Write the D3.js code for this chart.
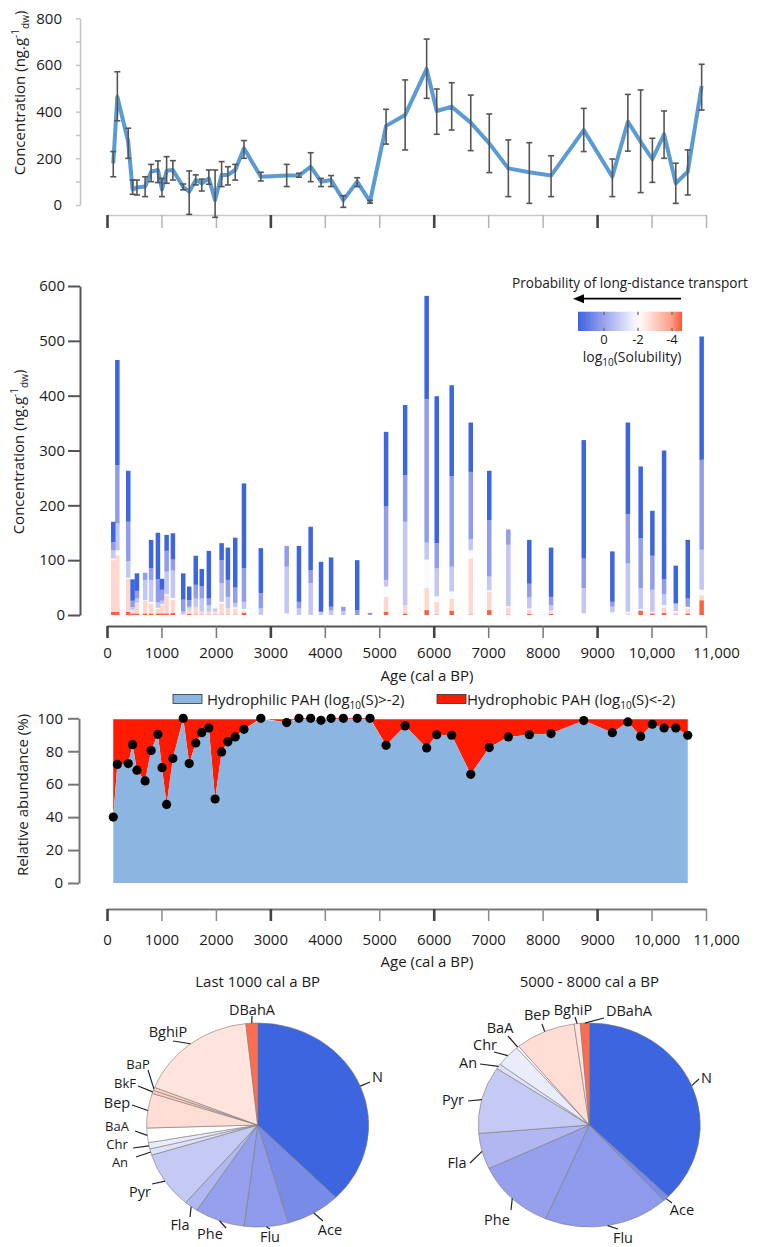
<!DOCTYPE html>
<html><head><meta charset="utf-8">
<script src="https://cdn.jsdelivr.net/npm/d3@7"></script>
<style>
body{margin:0;background:#fff;}
svg{display:block;font-family:"Open Sans",sans-serif;}
</style></head><body>
<svg id="chart" width="760" height="1247"></svg>
<script>
// ---------------- DATA ----------------
const ages = [115,190,390,470,550,700,810,935,1010,1095,1210,1400,1510,1630,1740,1870,1985,2105,2220,2355,2515,2825,3300,3525,3740,3930,4115,4340,4595,4830,5125,5475,5870,6055,6330,6680,7020,7370,7755,8155,8755,9280,9565,9800,10015,10230,10445,10665,10920];

// top panel: mean total PAH concentration with error range
const meanConc = [178,464,270,66,75,79,143,150,66,147,150,77,57,107,93,114,21,129,129,150,243,121,126,126,164,100,107,21,100,14,339,386,583,403,421,353,264,157,140,126,321,121,357,271,196,303,93,143,510];
const errLow  = [121,361,200,46,43,36,100,96,36,93,107,65,-40,86,60,89,-53,79,86,107,200,103,79,119,100,79,79,-10,79,8,261,236,457,303,321,233,139,36,7,36,229,36,231,53,97,200,7,43,407];
const errHigh = [229,571,329,107,107,121,174,189,114,207,190,90,146,129,111,150,150,186,164,174,276,140,174,136,224,114,126,40,117,20,410,536,711,497,524,471,390,279,267,211,414,197,474,493,286,403,179,236,603];

// middle panel: concentration by solubility class (bottom -> top)
const groupKeys = ["veryLow","low","mid2","hiLow","hiMid","hiTop"];
const groupLogS = [-4.5, -2.8, -1.9, -0.8, 0.15, 1.5];
const gRed   = [6,6,6,3,3,3,3,3,3,3,4,0,2,1,1,1,1,1,1,1,4,0,0,0,0,0,0,0,0,0,6,3,9,1,8,1,9,1,2,2,0,0,0,8,3,4,1,3,27];
const gPink  = [94,103,60,5,18,23,18,8,15,33,24,1,10,14,5,5,4,20,11,11,4,0,0,0,0,0,0,0,0,0,27,15,41,23,22,102,34,13,8,5,0,0,4,1,2,10,4,9,9];
const gWhite = [3,9,2,1,1,1,3,2,2,2,3,0,0,0,0,0,1,3,0,2,3,0,3,0,0,0,0,0,0,0,19,0,51,10,13,15,2,2,2,1,3,5,2,2,1,4,2,3,10];
const gLight = [15,49,30,5,8,37,40,10,6,41,50,5,3,15,24,12,6,34,21,8,13,12,85,12,58,6,8,7,0,0,12,152,31,51,45,20,25,112,20,10,46,10,88,38,40,20,14,0,73];
const gMid   = [15,106,72,12,14,13,21,42,20,38,20,22,12,25,22,12,0,42,31,28,61,28,38,12,24,0,7,8,9,4,134,85,262,46,165,123,103,28,25,15,54,9,90,91,62,27,0,15,164];
const gDark  = [37,192,93,39,32,0,52,85,20,29,48,48,25,53,32,87,0,31,59,91,155,82,0,102,79,91,90,0,91,0,136,128,188,268,166,90,90,0,80,90,216,92,167,131,82,235,69,107,225];

// bottom panel: relative abundance of hydrophilic PAH (%)
const hydrophilicPct = [40,72,72.5,84,68.5,62,80.4,90.3,70,47.7,75.6,100,72.5,85,91.3,94.1,51,79.6,85.7,88.7,93.3,100,97.4,100,100,98.8,100,100,100,100,83.6,95.4,82,90,89.7,66,82.2,88.7,90,90.7,98.6,91.3,97.8,89,96.4,94.1,94.1,89.7];

// pies
const pie1Names  = ["N","Ace","Flu","Phe","Fla","Pyr","An","Chr","BaA","Bep","BkF","BaP","BghiP","DBahA"];
const pie1Shares = [37.6,8.0,6.4,7.3,2.0,9.0,1.0,1.0,2.3,5.5,0.5,0.5,17.3,1.7];
const pie2Names  = ["N","Ace","Flu","Phe","Fla","Pyr","An","Chr","BaA","BeP","BghiP","DBahA"];
const pie2Shares = [37.5,0.9,18.2,11.6,5.7,10.7,0.8,3.5,0.4,8.8,0.9,1.3];
const compoundLogS = {N:1.5,Ace:0.55,Flu:0.2,Phe:0.05,Fla:-0.45,Pyr:-0.85,An:-1.35,Chr:-1.6,BaA:-2.0,Bep:-2.7,BeP:-2.7,BkF:-3.0,BaP:-2.9,BghiP:-2.55,DBahA:-4.4};

// ticks
const xTicks = [0,1000,2000,3000,4000,5000,6000,7000,8000,9000,10000,11000];
const xTickLabels = ["0","1000","2000","3000","4000","5000","6000","7000","8000","9000","10,000","11,000"];
const majorX = [0,3000,6000,9000];
const cbarDomain = [1.53,-4.59];
const cbarTicks = [0,-2,-4];

// ---------------- LAYOUT ----------------
const svg = d3.select("#chart");
const TXT = "#1a1a1a";
const color = d3.scaleLinear().domain([1.5,0,-2,-4,-4.6])
  .range(["#3D65DF","#9AA2EC","#FFFFFF","#FE9C84","#FF5533"]).clamp(true);
const x = d3.scaleLinear().domain([0,11000]).range([107,706]);

function richText(g, px, py, parts, opts={}){
  const t = g.append("text").attr("x",px).attr("y",py)
    .attr("font-size",opts.size||15).attr("fill",TXT)
    .attr("text-anchor",opts.anchor||"start");
  if(opts.rotate) t.attr("transform",`rotate(-90,${px},${py})`);
  let shift=0;
  parts.forEach(p=>{
    const k=p[1]||"n";
    const target = k==="sup"?-6:(k==="sub"?4:0);
    const ts=t.append("tspan").attr("dy",target-shift).text(p[0]);
    if(k!=="n") ts.attr("font-size",10);
    shift=target;
  });
  return t;
}
const concLabel = [["Concentration (ng.g"],["-1","sup"],["dw","sub"],[")"]];

function styleXAxis(g, lineColor, minorColor){
  g.select(".domain").attr("stroke",lineColor).attr("stroke-width",2);
  g.selectAll(".tick line")
    .attr("stroke",d=>majorX.includes(d)?"#444":minorColor)
    .attr("stroke-width",d=>majorX.includes(d)?2.6:1.5);
}

// ---------------- TOP PANEL ----------------
const yTop = d3.scaleLinear().domain([0,800]).range([205,18.3]);
const gyT = svg.append("g").attr("transform","translate(80,0)")
  .call(d3.axisLeft(yTop).tickValues(d3.range(0,801,100)).tickSize(4).tickSizeOuter(0).tickPadding(14)
    .tickFormat(d=>d%200===0?d:""));
gyT.select(".domain").attr("stroke","#c4c4c4").attr("stroke-width",1.5);
gyT.selectAll(".tick line").attr("stroke","#c4c4c4").attr("stroke-width",1.5);
gyT.selectAll(".tick text").attr("font-size",15).attr("fill",TXT).attr("font-family","Open Sans");

const gxT = svg.append("g").attr("transform","translate(0,215)")
  .call(d3.axisBottom(x).tickValues(xTicks).tickSize(13).tickSizeOuter(0).tickFormat(""));
styleXAxis(gxT,"#c8c8c8","#b4b4b4");
gxT.select(".domain").attr("stroke-width",1.5);

richText(svg,25,93,concLabel,{anchor:"middle",rotate:true});

svg.append("path").datum(ages.map((a,i)=>[a,meanConc[i]]))
  .attr("fill","none").attr("stroke","#5B9BD5").attr("stroke-width",4).attr("stroke-linejoin","round")
  .attr("d",d3.line().x(d=>x(d[0])).y(d=>yTop(d[1])));

const eb = svg.append("g").attr("stroke","#555").attr("stroke-width",1.6);
ages.forEach((a,i)=>{
  if(errHigh[i]-errLow[i]<1) return;
  const cx=x(a), y1=yTop(errLow[i]), y2=yTop(errHigh[i]);
  eb.append("line").attr("x1",cx).attr("x2",cx).attr("y1",y1).attr("y2",y2);
  eb.append("line").attr("x1",cx-3).attr("x2",cx+3).attr("y1",y1).attr("y2",y1);
  eb.append("line").attr("x1",cx-3).attr("x2",cx+3).attr("y1",y2).attr("y2",y2);
});

// ---------------- MIDDLE PANEL ----------------
const yMid = d3.scaleLinear().domain([0,600]).range([615,286]);
const rows = ages.map((a,i)=>({age:a,veryLow:gRed[i],low:gPink[i],mid2:gWhite[i],hiLow:gLight[i],hiMid:gMid[i],hiTop:gDark[i]}));
const stacked = d3.stack().keys(groupKeys)(rows);
const barW = 4.5;
stacked.forEach((layer,k)=>{
  svg.append("g").attr("fill",color(groupLogS[k]))
    .selectAll("rect").data(layer).join("rect")
    .attr("x",d=>x(d.data.age)-barW/2).attr("width",barW)
    .attr("y",d=>yMid(d[1])).attr("height",d=>Math.max(0,yMid(d[0])-yMid(d[1])));
});

const gyM = svg.append("g").attr("transform","translate(80,0)")
  .call(d3.axisLeft(yMid).tickValues(d3.range(0,601,100)).tickSize(12).tickSizeOuter(0).tickPadding(3));
gyM.select(".domain").attr("stroke","#555").attr("stroke-width",2);
gyM.selectAll(".tick line").attr("stroke","#555").attr("stroke-width",2);
gyM.selectAll(".tick text").attr("font-size",15).attr("fill",TXT).attr("font-family","Open Sans");

const gxM = svg.append("g").attr("transform","translate(0,626)")
  .call(d3.axisBottom(x).tickValues(xTicks).tickSize(12).tickSizeOuter(0).tickPadding(9.4)
    .tickFormat((d,i)=>xTickLabels[i]));
styleXAxis(gxM,"#555","#777");
gxM.selectAll(".tick text").attr("font-size",15).attr("fill",TXT).attr("font-family","Open Sans")
  .attr("dx",d=>d===11000?10:0);
svg.append("text").attr("x",427).attr("y",681).attr("text-anchor","middle").attr("font-size",15).attr("fill",TXT).text("Age (cal a BP)");
richText(svg,24,452,concLabel,{anchor:"middle",rotate:true});

// legend: arrow + colorbar
svg.append("text").attr("x",512).attr("y",287.5).attr("font-size",13.6).attr("fill",TXT).text("Probability of long-distance transport");
svg.append("line").attr("x1",681).attr("x2",580).attr("y1",298.7).attr("y2",298.7).attr("stroke","#000").attr("stroke-width",1.8);
svg.append("path").attr("d","M573,298.7 L584,294.2 L584,303.2 Z").attr("fill","#000");

const cbX = d3.scaleLinear().domain([0,-2]).range([604,638]);
const grad = svg.append("defs").append("linearGradient").attr("id","cbar").attr("x1","0").attr("x2","1").attr("y1","0").attr("y2","0");
d3.range(0,1.0001,0.05).forEach(t=>{
  const v = cbarDomain[0]+t*(cbarDomain[1]-cbarDomain[0]);
  grad.append("stop").attr("offset",t).attr("stop-color",color(v));
});
const cbL=cbX(cbarDomain[0]), cbR=cbX(cbarDomain[1]);
svg.append("rect").attr("x",cbL).attr("y",311.7).attr("width",cbR-cbL).attr("height",19.3).attr("fill","url(#cbar)");
cbarTicks.forEach(v=>{
  svg.append("line").attr("x1",cbX(v)).attr("x2",cbX(v)).attr("y1",311.7).attr("y2",315).attr("stroke","#666").attr("stroke-width",1.2);
  svg.append("line").attr("x1",cbX(v)).attr("x2",cbX(v)).attr("y1",327.7).attr("y2",331).attr("stroke","#666").attr("stroke-width",1.2);
  svg.append("text").attr("x",cbX(v)).attr("y",343.5).attr("text-anchor","middle").attr("font-size",13).attr("fill",TXT).text(v);
});
richText(svg,632,362,[["log"],["10","sub"],["(Solubility)"]],{anchor:"middle",size:14});

// ---------------- BOTTOM PANEL ----------------
const yBot = d3.scaleLinear().domain([0,100]).range([883,718.3]);
const bAges = ages.slice(0,hydrophilicPct.length);
const bData = bAges.map((a,i)=>[a,hydrophilicPct[i]]);
svg.append("path").datum(bData).attr("fill","#FF1A00")
  .attr("d",d3.area().x(d=>x(d[0])).y0(d=>yBot(d[1])).y1(yBot(99.4)));
svg.append("path").datum(bData).attr("fill","#8DB5E1")
  .attr("d",d3.area().x(d=>x(d[0])).y0(yBot(0)).y1(d=>yBot(Math.min(d[1],99.4))));
svg.append("g").selectAll("circle").data(bData).join("circle")
  .attr("cx",d=>x(d[0])).attr("cy",d=>yBot(d[1])).attr("r",4.6).attr("fill","#000");

const gyB = svg.append("g").attr("transform","translate(79,0)")
  .call(d3.axisLeft(yBot).tickValues(d3.range(0,101,20)).tickSize(11).tickSizeOuter(0).tickPadding(5));
gyB.select(".domain").attr("stroke","#777").attr("stroke-width",2);
gyB.selectAll(".tick line").attr("stroke","#777").attr("stroke-width",2);
gyB.selectAll(".tick text").attr("font-size",15).attr("fill",TXT).attr("font-family","Open Sans");

const gxB = svg.append("g").attr("transform","translate(0,909)")
  .call(d3.axisBottom(x).tickValues(xTicks).tickSize(12).tickSizeOuter(0).tickPadding(13.4)
    .tickFormat((d,i)=>xTickLabels[i]));
styleXAxis(gxB,"#777","#8a8a8a");
gxB.selectAll(".tick text").attr("font-size",15).attr("fill",TXT).attr("font-family","Open Sans")
  .attr("dx",d=>d===11000?10:(d===10000?5:0));
svg.append("text").attr("x",427).attr("y",967).attr("text-anchor","middle").attr("font-size",15).attr("fill",TXT).text("Age (cal a BP)");
richText(svg,28,795,[["Relative abundance (%)"]],{anchor:"middle",rotate:true});

// legend
svg.append("rect").attr("x",173).attr("y",694.5).attr("width",29).attr("height",9).attr("fill","#8DB5E1").attr("stroke","#333").attr("stroke-width",0.8);
richText(svg,207,704.5,[["Hydrophilic PAH (log"],["10","sub"],["(S)>-2)"]]);
svg.append("rect").attr("x",437).attr("y",694.5).attr("width",29).attr("height",9).attr("fill","#FF1A00").attr("stroke","#333").attr("stroke-width",0.8);
richText(svg,467,704.5,[["Hydrophobic PAH (log"],["10","sub"],["(S)<-2)"]]);

// ---------------- PIES ----------------
const RV=102, SX=1.088, PCY=1125;
const pieLayout1 = {
  N:{tx:372,ty:1077,a:"start",lx:370,ly:1082},
  Ace:{tx:330,ty:1230,lx:323,ly:1221},
  Flu:{tx:270,ty:1237,lx:270,ly:1229},
  Phe:{tx:210,ty:1234,lx:226,ly:1228},
  Fla:{tx:180,ty:1225,lx:190,ly:1217},
  Pyr:{tx:140,ty:1192,lx:152,ly:1184},
  An:{tx:120,ty:1162,lx:136,ly:1157,s:13},
  Chr:{tx:117,ty:1144,lx:133,ly:1148,s:13},
  BaA:{tx:117,ty:1126,lx:135,ly:1131,s:13},
  Bep:{tx:117,ty:1103,lx:132,ly:1105},
  BkF:{tx:125,ty:1083,lx:138,ly:1086,s:13},
  BaP:{tx:138,ty:1064,lx:148,ly:1070,s:13},
  BghiP:{tx:168,ty:1032,lx:173,ly:1041},
  DBahA:{tx:252,ty:1010,lx:252,ly:1016}
};
const pieLayout2 = {
  N:{tx:701,ty:1078,a:"start",lx:699,ly:1079},
  Ace:{tx:682,ty:1210,lx:672,ly:1203},
  Flu:{tx:623,ty:1238,lx:618,ly:1229},
  Phe:{tx:497,ty:1220,lx:511,ly:1210},
  Fla:{tx:457,ty:1163,lx:470,ly:1163},
  Pyr:{tx:453,ty:1100,lx:468,ly:1101},
  An:{tx:468,ty:1063,lx:480,ly:1064},
  Chr:{tx:485,ty:1045,lx:494,ly:1052},
  BaA:{tx:500,ty:1028,lx:508,ly:1036},
  BeP:{tx:537,ty:1015,lx:542,ly:1024},
  BghiP:{tx:573,ty:1010,lx:575,ly:1017},
  DBahA:{tx:629,ty:1011,lx:604,ly:1018}
};
function drawPie(cx, names, shares, title, layout){
  const arcs = d3.pie().sort(null).value(d=>d)(shares);
  const g = svg.append("g").attr("transform",`translate(${cx},${PCY}) scale(${SX},1)`);
  const arc = d3.arc().innerRadius(0).outerRadius(RV);
  g.selectAll("path").data(arcs).join("path")
    .attr("d",arc).attr("fill",(d,i)=>color(compoundLogS[names[i]]))
    .attr("stroke","#7a7a7a").attr("stroke-width",0.6).attr("vector-effect","non-scaling-stroke");
  svg.append("text").attr("x",cx).attr("y",987).attr("text-anchor","middle").attr("font-size",15).attr("fill",TXT).text(title);
  arcs.forEach((d,i)=>{
    const L = layout[names[i]]; if(!L) return;
    const m=(d.startAngle+d.endAngle)/2;
    const rx=cx+SX*RV*Math.sin(m), ry=PCY-RV*Math.cos(m);
    svg.append("line").attr("x1",rx).attr("y1",ry).attr("x2",L.lx).attr("y2",L.ly).attr("stroke","#222").attr("stroke-width",1.2);
    svg.append("text").attr("x",L.tx).attr("y",L.ty+5).attr("text-anchor",L.a||"middle")
      .attr("font-size",L.s||14.5).attr("fill",TXT).text(names[i]);
  });
}
drawPie(257.7, pie1Names, pie1Shares, "Last 1000 cal a BP", pieLayout1);
drawPie(589.3, pie2Names, pie2Shares, "5000 - 8000 cal a BP", pieLayout2);
</script>
</body></html>
